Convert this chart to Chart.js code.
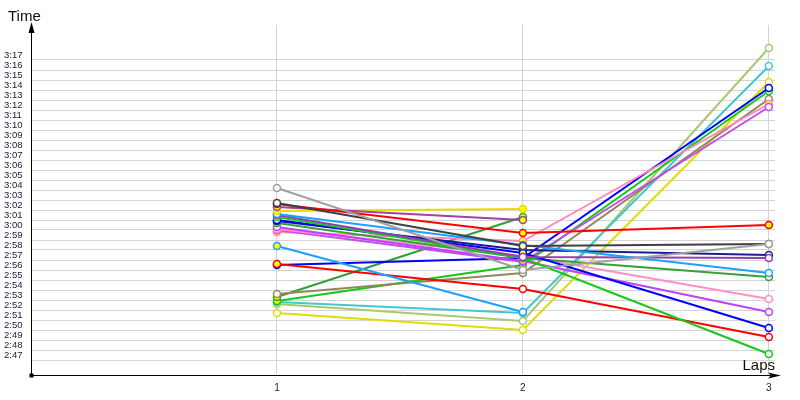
<!DOCTYPE html>
<html lang="en">
<head>
  <meta charset="UTF-8"/>
  <title>Lap times</title>
  <script src="https://cdn.jsdelivr.net/npm/chart.js"></script>
  <style>
    html, body { margin: 0; padding: 0; background: #fff; }
    #wrap { width: 800px; height: 400px; }
  </style>
</head>
<body>
  <div id="wrap"><canvas id="chart"></canvas></div>

  <script>
    // laps on the x axis and the time labels on the y axis
    const laps = [1, 2, 3];
    const timeLabels = ['2:47','2:48','2:49','2:50','2:51','2:52','2:53','2:54','2:55','2:56',
      '2:57','2:58','2:59','3:00','3:01','3:02','3:03','3:04','3:05','3:06','3:07','3:08',
      '3:09','3:10','3:11','3:12','3:13','3:14','3:15','3:16','3:17'];

    // lap times per car (lap 1, lap 2, lap 3), null = no time
    const greyTimes      = ['3:04.2', '2:56.0', '2:58.6'];
    const blackTimes     = ['3:02.7', '2:58.4', '2:58.6'];
    const redTimes       = ['3:02.6', '2:59.7', '3:00.5'];
    const purpleTimes    = ['3:02.3', '3:01.0', null];
    const goldTimes      = ['3:01.9', '3:02.1', null];
    const skyTimes       = ['3:01.6', '2:58.5', '2:55.7'];
    const violetTimes    = ['3:01.5', '2:57.3', '2:57.2'];
    const limeTimes      = ['3:01.3', '2:57.2', '2:47.6'];
    const blueTimes      = ['3:01.0', '2:57.7', '2:50.2'];
    const navyTimes      = ['3:00.9', '2:58.0', '2:57.5'];
    const greenTimes     = ['3:00.7', '2:57.2', '2:55.3'];
    const magentaTimes   = ['3:00.3', '2:56.9', '2:51.8'];
    const pinkTimes      = ['3:00.1', '2:57.4', '2:53.1'];
    const orchidTimes    = ['3:00.0', '2:56.8', '3:12.3'];
    const roseTimes      = ['2:59.8', '2:58.9', '3:12.6'];
    const sky2Times      = ['2:58.4', '2:51.8', null];
    const red2Times      = ['2:56.6', '2:54.1', '2:49.3'];
    const blue2Times     = ['2:56.5', '2:57.2', '3:14.2'];
    const oliveTimes     = ['2:53.6', '2:55.7', '3:13.1'];
    const green2Times    = ['2:53.3', '3:01.3', null];
    const lime2Times     = ['2:52.9', '2:56.5', '3:13.9'];
    const turquoiseTimes = ['2:52.8', '2:51.7', '3:16.4'];
    const pistachioTimes = ['2:52.6', '2:50.9', '3:18.2'];
    const yellowTimes    = ['2:51.7', '2:50.0', '3:14.8'];

    // points drawn with a yellow centre: [series name, lap]
    const yellowMarks = [
      ['red', 1], ['red', 2], ['red', 3], ['purple', 1], ['purple', 2],
      ['gold', 1], ['gold', 2], ['navy', 1], ['blue', 2], ['magenta', 2],
      ['rose', 1], ['rose', 2], ['rose', 3], ['sky2', 1], ['red2', 1], ['blue2', 1],
      ['green2', 1], ['green2', 2], ['lime2', 1], ['lime2', 2], ['turquoise', 2]
    ];

    const series = [
      ['grey', greyTimes, '#a0a0a0'],
      ['black', blackTimes, '#404040'],
      ['red', redTimes, '#ff0000'],
      ['purple', purpleTimes, '#a040a8'],
      ['gold', goldTimes, '#e8dc00'],
      ['sky', skyTimes, '#1ea0ff'],
      ['violet', violetTimes, '#9040b0'],
      ['lime', limeTimes, '#18c818'],
      ['blue', blueTimes, '#0000ff'],
      ['navy', navyTimes, '#1c1c8c'],
      ['green', greenTimes, '#38a038'],
      ['magenta', magentaTimes, '#c040ff'],
      ['pink', pinkTimes, '#ff90c8'],
      ['orchid', orchidTimes, '#c050e8'],
      ['rose', roseTimes, '#ff88c0'],
      ['sky2', sky2Times, '#1ea0ff'],
      ['red2', red2Times, '#ff0000'],
      ['blue2', blue2Times, '#0000ff'],
      ['olive', oliveTimes, '#908858'],
      ['green2', green2Times, '#30a030'],
      ['lime2', lime2Times, '#18c818'],
      ['turquoise', turquoiseTimes, '#40c8d0'],
      ['pistachio', pistachioTimes, '#a8c870'],
      ['yellow', yellowTimes, '#e0dc00']
    ];

    function toSec(t) {
      if (t === null) return null;
      let p = t.split(':');
      return Number(p[0]) * 60 + Number(p[1]);
    }
    function fmt(s) {
      let m = Math.floor(s / 60), r = Math.round(s - m * 60);
      return m + ':' + (r < 10 ? '0' : '') + r;
    }

    const datasets = series.map(([name, times, col]) => ({
      label: name,
      data: laps.map((lap, i) => ({ x: lap, y: toSec(times[i]) })),
      borderColor: col,
      borderWidth: 2,
      pointBorderColor: col,
      pointBorderWidth: 1.5,
      pointRadius: 3.5,
      pointBackgroundColor: laps.map(lap =>
        yellowMarks.some(m => m[0] === name && m[1] === lap) ? '#ffff00' : '#ffffff'),
      tension: 0,
      spanGaps: false
    }));

    // axis lines with arrows, axis titles
    const axesPlugin = {
      id: 'axes',
      afterDraw(chart) {
        const c = chart.ctx, a = chart.chartArea;
        const x0 = Math.round(a.left) + 0.5, y0 = Math.round(a.bottom) + 0.5;
        c.save();
        c.strokeStyle = '#000'; c.fillStyle = '#000'; c.lineWidth = 1;
        c.beginPath();
        c.moveTo(x0, y0); c.lineTo(x0, 26);
        c.moveTo(x0, y0); c.lineTo(778, y0);
        c.stroke();
        // arrow heads
        c.beginPath();
        c.moveTo(x0, 22); c.lineTo(x0 - 3, 33); c.lineTo(x0 + 3, 33); c.closePath();
        c.fill();
        c.beginPath();
        c.moveTo(781, y0); c.lineTo(768, y0 - 3); c.lineTo(771, y0); c.lineTo(768, y0 + 3); c.closePath();
        c.fill();
        c.fillRect(x0 - 2, y0 - 2, 4, 4);
        c.font = '15px "Liberation Sans", Arial, sans-serif';
        c.fillStyle = '#1a0a0a';
        c.textBaseline = 'alphabetic';
        c.textAlign = 'left';
        c.fillText('Time', 8, 21);
        c.textAlign = 'right';
        c.fillText('Laps', 775, 370);
        c.restore();
      }
    };

    new Chart(document.getElementById('chart').getContext('2d'), {
      type: 'line',
      data: { datasets: datasets },
      options: {
        responsive: true,
        maintainAspectRatio: false,
        animation: false,
        layout: { padding: { left: 4, top: 25, right: 25, bottom: 0 } },
        plugins: { legend: { display: false }, tooltip: { enabled: false } },
        scales: {
          x: {
            type: 'linear',
            min: 0,
            max: 3.025,
            afterBuildTicks: s => { s.ticks = laps.map(v => ({ value: v })); },
            afterFit: s => { s.height = 25; },
            grid: { color: '#d4d4d4', drawTicks: false },
            border: { display: false },
            ticks: {
              autoSkip: false,
              padding: 7,
              maxRotation: 0,
              color: '#202040',
              font: { size: 10, family: '"Liberation Sans", Arial, sans-serif' }
            }
          },
          y: {
            type: 'linear',
            min: 165.5,
            max: 200.5,
            afterBuildTicks: s => { s.ticks = timeLabels.map(t => ({ value: toSec(t) })); },
            afterFit: s => { s.width = 27; },
            grid: { color: '#d4d4d4', drawTicks: false },
            border: { display: false },
            ticks: {
              autoSkip: false,
              crossAlign: 'far',
              labelOffset: -5,
              padding: 0,
              color: '#202040',
              font: { size: 9.5, family: '"Liberation Sans", Arial, sans-serif' },
              callback: v => fmt(v)
            }
          }
        }
      },
      plugins: [axesPlugin]
    });
  </script>
</body>
</html>
